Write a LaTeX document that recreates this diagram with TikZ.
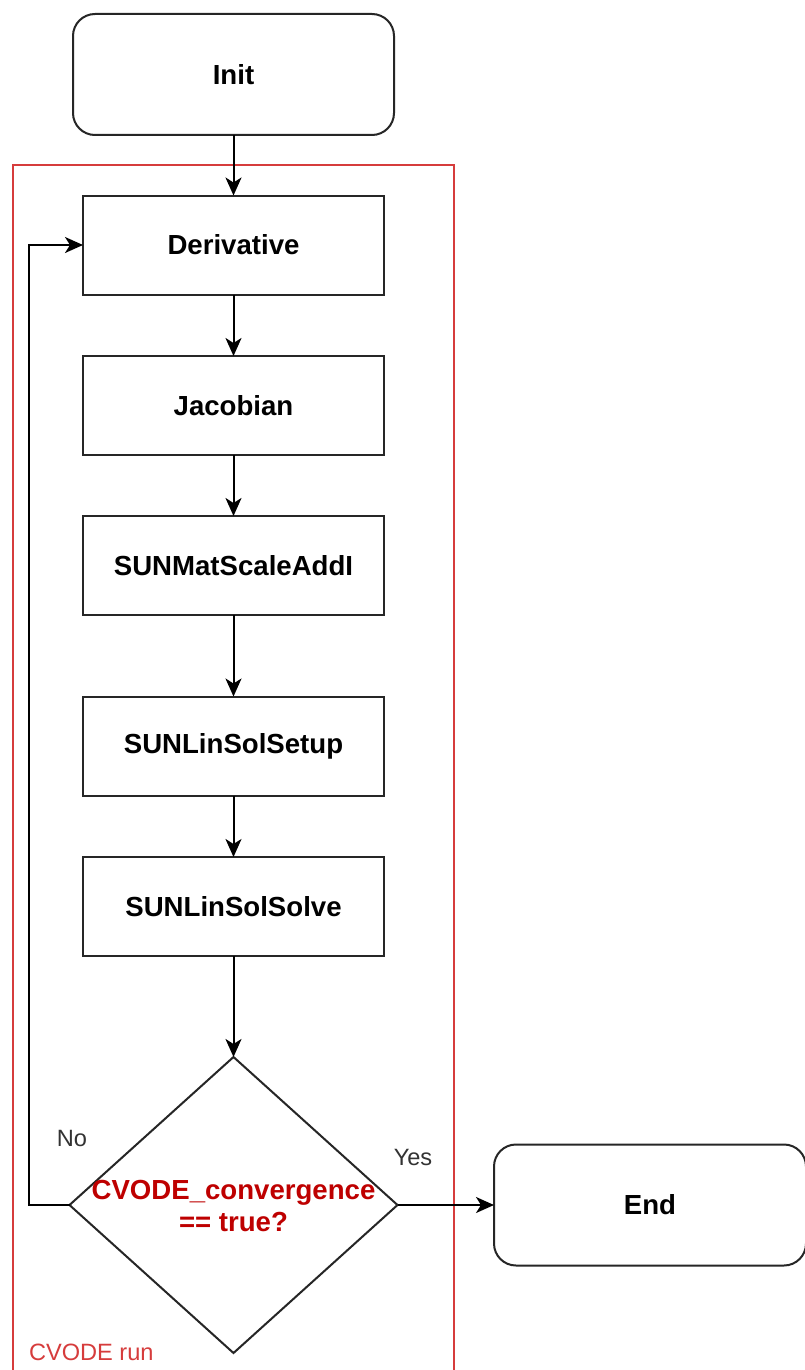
\documentclass[tikz,border=0pt]{standalone}
\usepackage{fontspec}
\setmainfont{Liberation Sans}
\usetikzlibrary{arrows.meta,shapes.geometric}
\definecolor{runred}{RGB}{214,60,60}
\definecolor{condred}{RGB}{190,0,0}
\begin{document}
\begin{tikzpicture}[x=1pt,y=-1pt,
  every node/.style={inner sep=0pt,outer sep=0pt},
  flow/.style={draw=black!85,line width=2pt,minimum width=301pt,minimum height=99pt,
    font=\fontsize{27.6}{31}\selectfont\bfseries},
  terminal/.style={flow,rounded corners=22pt,minimum width=321pt,minimum height=121pt},
  link/.style={draw=black,line width=2pt,-{Stealth[length=18pt,width=16pt,inset=5pt]}},
  lbl/.style={font=\fontsize{23.6}{27}\selectfont,text=black!80}]
\useasboundingbox (0,0) rectangle (804,1370);
\fill[white] (0,0) rectangle (804,1370);
% loop frame
\draw[runred,line width=1.6pt] (13,165) rectangle (454,1380);
\node[anchor=west,font=\fontsize{23.6}{27}\selectfont,text=runred] (runlbl) at (29,1352) {CVODE run};
% boxes
\node[terminal] (init) at (233.5,74.5) {Init};
\node[flow] (deriv) at (233.5,245) {Derivative};
\node[flow] (jac) at (233.5,405.5) {Jacobian};
\node[flow] (scale) at (233.5,565.5) {SUNMatScaleAddI};
\node[flow] (setup) at (233.5,746) {SUNLinSolSetup};
\node[flow] (solve) at (233.5,906.5) {SUNLinSolSolve};
\node[draw=black!85,line width=2pt,diamond,minimum width=328pt,minimum height=296pt] (cond) at (233.5,1205) {};
\node[align=center,text=condred,font=\fontsize{27.6}{32}\selectfont\bfseries] (condtxt) at (233.5,1206) {CVODE\_convergence\\== true?};
\node[terminal,minimum width=312pt] (end) at (650,1205) {End};
% connectors
\draw[link] (init) -- (deriv);
\draw[link] (deriv) -- (jac);
\draw[link] (jac) -- (scale);
\draw[link] (scale) -- (setup);
\draw[link] (setup) -- (solve);
\draw[link] (solve) -- (cond);
\draw[link] (cond.east) -- (end.west);
\coordinate (lb) at (29,1205);
\coordinate (lt) at (29,245);
\draw[link] (cond.west) -- (lb) -- (lt) -- (deriv.west);
\node[lbl] (nolbl) at (72,1138) {No};
\node[lbl] (yeslbl) at (413,1157) {Yes};
\end{tikzpicture}
\end{document}
